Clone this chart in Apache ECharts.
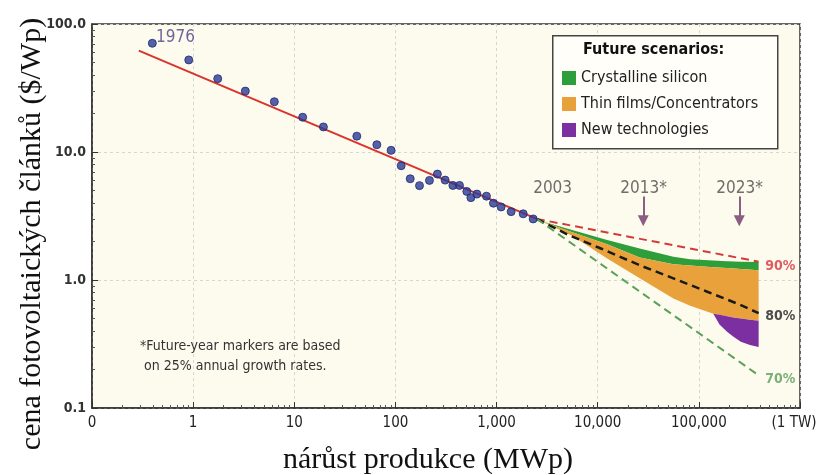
<!DOCTYPE html>
<html>
<head>
<meta charset="utf-8">
<script src="https://cdn.jsdelivr.net/npm/echarts@6/dist/echarts.min.js"></script>
<style>
  html, body { margin: 0; padding: 0; background: #fff; }
  #chart { width: 820px; height: 475px; }
</style>
</head>
<body>
<div id="chart"></div>
<script>
// tick labels
const xTickLabels = ['0', '1', '10', '100', '1,000', '10,000', '100,000', '(1 TW)']
const yTickLabels = ['0.1', '1.0', '10.0', '100.0']

// historical prices [MWp cumulative, $/Wp]
const historyPoints = [
  [0.395, 70.7], [0.905, 52.4], [1.75, 37.4], [3.28, 29.9], [6.35, 24.7],
  [12.1, 18.7], [19.4, 15.7], [41.5, 13.3], [65.5, 11.4], [90.6, 10.3],
  [114, 7.81], [140, 6.18], [173, 5.46], [217, 6.0], [260, 6.72],
  [310, 6.03], [370, 5.48], [430, 5.48], [508, 4.92], [557, 4.40],
  [639, 4.69], [794, 4.52], [931, 3.98], [1109, 3.72], [1393, 3.42],
  [1833, 3.29], [2301, 3.0]
]

// fitted experience curve + scenarios
const fitLine = [[0.29, 62], [2500, 3.0]]
const curve90 = [[2500, 3.0], [390000, 1.39]]
const curve80 = [[2500, 3.0], [5000, 2.27], [10600, 1.77], [26300, 1.30], [56000, 1.03], [121000, 0.81], [257000, 0.64], [390000, 0.55]]
const curve70 = [[2500, 3.0], [390000, 0.18]]

// future scenario bands
const bandX = [2700, 5700, 12400, 26000, 56000, 82000, 139000, 190000, 260000, 390000]
const siliconTop = [2.9, 2.45, 2.05, 1.76, 1.52, 1.45, 1.42, 1.40, 1.39, 1.38]
const siliconBottom = [2.9, 2.35, 1.90, 1.50, 1.33, 1.30, 1.26, 1.24, 1.22, 1.19]
const thinFilmBottom = [2.9, 2.2, 1.47, 1.03, 0.716, 0.63, 0.546, 0.52, 0.50, 0.48]
const newTechX = [139000, 160000, 190000, 220000, 260000, 320000, 390000]
const newTechTop = [0.546, 0.535, 0.52, 0.51, 0.50, 0.49, 0.48]
const newTechBottom = [0.546, 0.45, 0.394, 0.36, 0.33, 0.31, 0.30]

// annotation texts
const noteLines = ['*Future-year markers are based', ' on 25% annual growth rates.']
const yearMarks = [
  { text: '1976', at: [0.43, 78], color: '#4d3f86', size: 17 },
  { text: '2003', at: [2300, 5.2], color: '#4a4a4a', size: 17 },
  { text: '2013*', at: [16700, 5.2], color: '#4a4a4a', size: 17 },
  { text: '2023*', at: [148600, 5.2], color: '#4a4a4a', size: 17 }
]
const curveMarks = [
  { text: '90%', at: [454000, 1.28], color: '#d4343c' },
  { text: '80%', at: [454000, 0.517], color: '#222' },
  { text: '70%', at: [454000, 0.166], color: '#5c9c5c' }
]
const arrowX = [28200, 251000]
const arrowFrom = 4.5
const arrowTo = 2.9

const narrow = "'Liberation Sans Narrow', 'DejaVu Sans Condensed', 'Liberation Sans', sans-serif"
const serif = "'Liberation Serif', 'DejaVu Serif', serif"

function bandSeries(name, color, xs, top, bottom) {
  return {
    name: name,
    type: 'custom',
    z: 2,
    itemStyle: { color: color },
    data: xs.map((x, i) => [x, top[i], bottom[i]]),
    encode: { x: 0, y: [1, 2] },
    renderItem(params, api) {
      // whole band drawn once as one polygon
      if (params.dataIndex !== 0) return null
      const upper = xs.map((x, i) => api.coord([x, top[i]]))
      const lower = xs.map((x, i) => api.coord([x, bottom[i]])).reverse()
      return {
        type: 'polygon',
        shape: { points: upper.concat(lower) },
        style: { fill: color }
      }
    }
  }
}

function lineSeries(data, color, width, dashed) {
  return {
    type: 'line',
    data: data,
    symbol: 'none',
    z: 3,
    lineStyle: { color: color, width: width, type: dashed ? [8, 5] : 'solid' },
    silent: true
  }
}

const chart = echarts.init(document.getElementById('chart'))

const option = {
  animation: false,
  grid: {
    left: 92, right: 20, top: 24, bottom: 67,
    outerBoundsMode: 'none',
    show: true,
    backgroundColor: '#fdfbee',
    borderColor: '#333',
    borderWidth: 1.5
  },
  legend: {
    orient: 'vertical',
    left: 557,
    top: 65,
    z: 10,
    itemWidth: 14,
    itemHeight: 14,
    itemGap: 10,
    icon: 'rect',
    data: ['Crystalline silicon', 'Thin films/Concentrators', 'New technologies'],
    textStyle: { fontFamily: narrow, fontSize: 16, color: '#222' }
  },
  xAxis: {
    type: 'log',
    logBase: 10,
    min: 0.1,
    max: 1000000,
    name: 'nárůst produkce (MWp)',
    nameLocation: 'middle',
    nameGap: 37,
    nameTextStyle: { fontFamily: serif, fontSize: 30, color: '#111', padding: [0, 36, 0, 0] },
    axisLine: { lineStyle: { color: '#333', width: 1.5 } },
    axisTick: { inside: true, length: 6, lineStyle: { color: '#333' } },
    minorTick: { show: true, splitNumber: 9, length: 3, lineStyle: { color: '#555' } },
    splitLine: { show: true, lineStyle: { color: '#d6d6d0', type: [3, 3] } },
    axisLabel: {
      fontFamily: narrow, fontSize: 15, color: '#222', margin: 8,
      // last label sits a bit left of the frame edge
      formatter: v => {
        const i = Math.round(Math.log10(v)) + 1
        return i === xTickLabels.length - 1 ? '{end|' + xTickLabels[i] + '}' : xTickLabels[i]
      },
      rich: { end: { fontFamily: narrow, fontSize: 15, color: '#222', padding: [0, 12, 0, 0] } }
    }
  },
  yAxis: {
    type: 'log',
    logBase: 10,
    min: 0.1,
    max: 100,
    name: 'cena fotovoltaických článků ($/Wp)',
    nameLocation: 'middle',
    nameGap: 45,
    nameRotate: 90,
    nameMoveOverlap: false,
    nameTextStyle: { fontFamily: serif, fontSize: 30, color: '#111', padding: [0, 36, 0, 0] },
    axisLine: { lineStyle: { color: '#333', width: 1.5 } },
    axisTick: { inside: true, length: 6, lineStyle: { color: '#333' } },
    minorTick: { show: true, splitNumber: 9, length: 3, lineStyle: { color: '#555' } },
    splitLine: { show: true, lineStyle: { color: '#d6d6d0', type: [3, 3] } },
    axisLabel: {
      fontFamily: narrow, fontSize: 14, fontWeight: 'bold', color: '#333', margin: 6,
      formatter: v => yTickLabels[Math.round(Math.log10(v)) + 1]
    }
  },
  graphic: [
    {
      type: 'rect', left: 552, top: 35, z: 1,
      shape: { width: 225, height: 113 },
      style: { fill: '#fffef8', stroke: '#444', lineWidth: 1.5 }
    },
    {
      type: 'text', left: 583, top: 42, z: 6,
      style: { text: 'Future scenarios:', font: "bold 16px " + narrow, fill: '#111' }
    },
    {
      type: 'text', left: 140, top: 336, z: 6,
      style: { text: noteLines.join('\n'), font: '14px ' + narrow, fill: '#333', lineHeight: 20 }
    }
  ],
  series: [
    bandSeries('Crystalline silicon', '#2e9e3a', bandX, siliconTop, siliconBottom),
    bandSeries('Thin films/Concentrators', '#e9a23b', bandX, siliconBottom, thinFilmBottom),
    bandSeries('New technologies', '#7b2fa0', newTechX, newTechTop, newTechBottom),
    lineSeries(fitLine, '#d9332b', 2, false),
    lineSeries(curve90, '#d43a3a', 2, true),
    lineSeries(curve80, '#1a1a1a', 2.5, true),
    lineSeries(curve70, '#5aa05a', 2, true),
    {
      type: 'scatter',
      data: historyPoints,
      symbolSize: 8,
      z: 4,
      itemStyle: { color: '#2b3a96', borderColor: '#1d2a70', borderWidth: 1 }
    },
    {
      // arrows for 2013 / 2023 markers
      type: 'line',
      data: [],
      markLine: {
        silent: true,
        symbol: ['none', 'triangle'],
        symbolSize: [11, 11],
        label: { show: false },
        lineStyle: { color: '#8b5e83', width: 2, type: 'solid' },
        data: arrowX.map(x => [{ coord: [x, arrowFrom] }, { coord: [x, arrowTo] }])
      }
    },
    {
      // text labels in data coordinates
      type: 'scatter',
      symbolSize: 0,
      z: 6,
      silent: true,
      data: yearMarks.concat(curveMarks).map(m => ({
        value: m.at,
        label: {
          show: true,
          position: 'right',
          distance: 0,
          formatter: m.text,
          color: m.color,
          fontFamily: narrow,
          fontSize: m.size || 14,
          fontWeight: m.size ? 'normal' : 'bold'
        }
      }))
    }
  ]
}

chart.setOption(option)
</script>
</body>
</html>
